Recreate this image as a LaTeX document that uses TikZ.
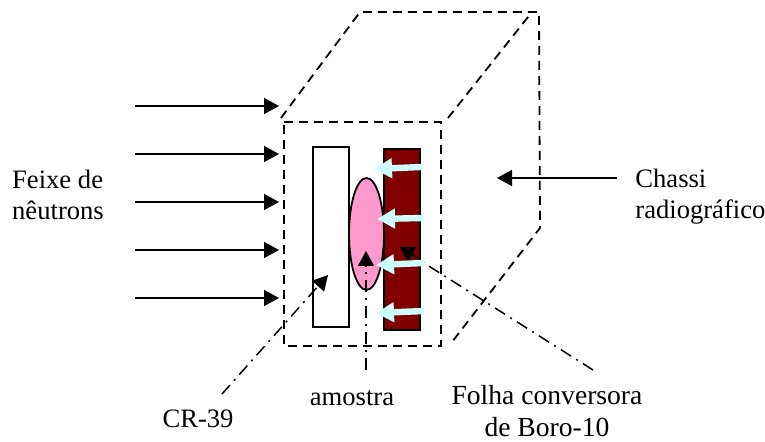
\documentclass[tikz,border=0pt]{standalone}
\usepackage{fontspec}
\setmainfont{Liberation Serif}
\usetikzlibrary{arrows.meta,shapes.geometric}
\definecolor{boro}{HTML}{800000}
\definecolor{amostra}{HTML}{FF99CC}
\definecolor{neutroncor}{HTML}{CCFFFF}
\tikzset{
  chassi/.style={line width=0.9pt, dash pattern=on 4.5pt off 3pt},
  bigarrow/.style={line width=0.9pt, -{Triangle[length=7.5pt,width=8pt]}},
  pointer/.style={line width=0.75pt, dash pattern=on 6pt off 3pt on 1pt off 3pt, -{Triangle[length=7.5pt,width=8pt]}},
  neutron/.style={line width=3.2pt, color=neutroncor, -{Triangle[length=9pt,width=9.5pt]}},
  label/.style={font=\fontsize{13.3}{15.5}\selectfont, inner sep=0pt}
}
\begin{document}
\begin{tikzpicture}[x=0.5pt,y=-0.5pt]
\useasboundingbox (0,0) rectangle (765,442);

% chassi
\coordinate (f1) at (284,122);
\coordinate (f2) at (441,122);
\coordinate (f3) at (441,346);
\coordinate (f4) at (284,346);
\coordinate (b1) at (360,12);
\coordinate (b2) at (539,12);
\coordinate (b3) at (540,228);
\coordinate (d1) at (281,118);
\coordinate (d2) at (448,118);
\coordinate (d3) at (532,12);
\coordinate (d4) at (452,342);
\draw[chassi] (f1) -- (f2) -- (f3) -- (f4) -- cycle;
\draw[chassi] (d1) -- (b1) -- (b2) -- (b3) -- (d4);
\draw[chassi] (d2) -- (d3);

% amostra e detectores
\node[draw, line width=0.9pt, fill=white, minimum width=18pt, minimum height=90pt, inner sep=0pt] (cr) at (331,237) {};
\node[draw, line width=0.9pt, fill=boro, minimum width=18pt, minimum height=90.5pt, inner sep=0pt] (folha) at (402,239.5) {};
\node[draw, ellipse, line width=0.9pt, fill=amostra, minimum width=17.5pt, minimum height=56pt, inner sep=0pt] (am) at (366.5,234) {};

% textos
\node[label, align=left] (feixe) at (58,194.5) {Feixe de\\nêutrons};
\node[label, align=left, anchor=west] (chassitxt) at (635,196.5) {Chassi\\radiográfico};
\node[label] (crtxt) at (198,419) {CR-39};
\node[label] (amtxt) at (352,398) {amostra};
\node[label, align=center, font=\fontsize{13.8}{15.8}\selectfont] (foltxt) at (547,411) {Folha conversora\\de Boro-10};

% feixe
\foreach \i/\y in {1/106,2/154,3/202,4/250,5/298}{
  \coordinate (s\i) at (135,\y);
  \coordinate (e\i) at (279,\y);
  \draw[bigarrow] (s\i) -- (e\i);
}
\coordinate (cs) at (617,178);
\coordinate (ce) at (497,178);
\draw[bigarrow] (cs) -- (ce);

% indicadores
\coordinate (p1) at (222,394);
\coordinate (q1) at (328,275);
\coordinate (p2) at (366,370);
\coordinate (q2) at (366,251);
\coordinate (p3) at (593,370);
\coordinate (q3) at (408,262);
\draw[pointer] (p1) -- (q1);
\draw[pointer] (p2) -- (q2);
\draw[pointer] (p3) -- (424,263) .. controls (415,256) and (408,252) .. (q3);

% conversao
\foreach \i/\a/\b/\c/\d in {1/421/167/374/169,2/424/218/377/219,3/424/263/376/265,4/424/311/376/313}{
  \coordinate (n\i) at (\a,\b);
  \coordinate (m\i) at (\c,\d);
  \draw[neutron] (n\i) -- (m\i);
}
\end{tikzpicture}
\end{document}
